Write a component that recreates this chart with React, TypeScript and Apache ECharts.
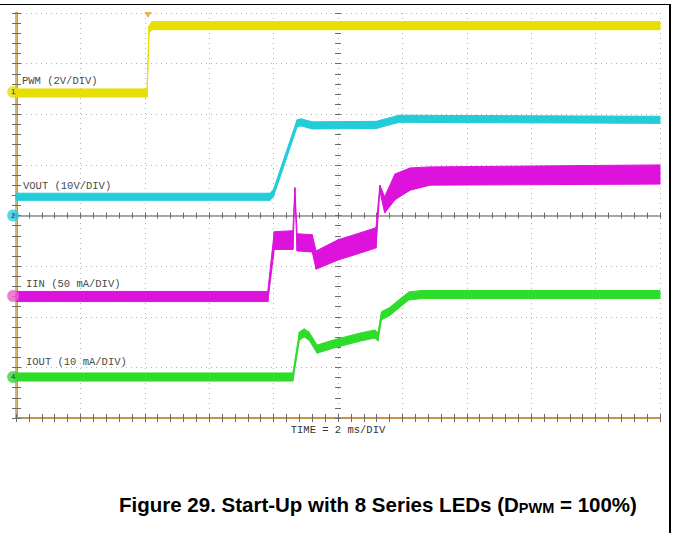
import React, { useEffect, useRef } from 'react';
import * as echarts from 'echarts';

// Time axis (ms) and vertical divisions
const timeTicksMs = [0, 2, 4, 6, 8, 10, 12, 14, 16, 18, 20];
const divTicks = [0, 1, 2, 3, 4, 5, 6, 7, 8];

// PWM (yellow) envelope, in divisions
const pwmT = [0, 4.07, 4.13, 4.22, 20];
const pwmLo = [6.34, 6.34, 7.6, 7.67, 7.67];
const pwmHi = [6.5, 6.5, 7.74, 7.83, 7.83];

// VOUT (cyan)
const voutT = [0, 7.89, 8.0, 8.73, 8.85, 9.2, 11.2, 11.3, 11.9, 20];
const voutLo = [4.3, 4.3, 4.38, 5.75, 5.77, 5.71, 5.72, 5.74, 5.84, 5.82];
const voutHi = [4.44, 4.44, 4.52, 5.89, 5.91, 5.85, 5.86, 5.88, 5.98, 5.96];

// IIN (magenta)
const iinT = [0, 7.82, 8.02, 8.6, 8.66, 8.73, 9.2, 9.32, 10.0, 10.7, 11.18, 11.3, 11.45, 11.77, 12.24, 12.86, 20];
const iinLo = [2.3, 2.3, 3.33, 3.33, 4.42, 3.3, 3.28, 2.94, 3.12, 3.26, 3.36, 4.48, 4.05, 4.31, 4.5, 4.6, 4.62];
const iinHi = [2.5, 2.5, 3.68, 3.7, 4.55, 3.64, 3.62, 3.3, 3.52, 3.66, 3.76, 4.6, 4.37, 4.82, 4.94, 4.96, 5.0];

// IOUT (green)
const ioutT = [0, 8.6, 8.8, 8.95, 9.1, 9.35, 9.85, 10.7, 11.15, 11.24, 11.35, 11.6, 11.92, 12.2, 12.6, 20];
const ioutLo = [0.73, 0.73, 1.54, 1.6, 1.54, 1.28, 1.38, 1.52, 1.58, 1.52, 1.94, 2.02, 2.19, 2.33, 2.36, 2.36];
const ioutHi = [0.89, 0.89, 1.7, 1.76, 1.7, 1.44, 1.54, 1.68, 1.74, 1.68, 2.1, 2.18, 2.35, 2.49, 2.52, 2.52];

// Channel ground markers
const chLabels = ['1', '2', '', '4'];
const chGround = [6.44, 4.0, 2.41, 0.81];
const chColors = ['#e6df00', '#2ccfe0', '#e860c8', '#33d833'];
const markerT = -0.09;
const triggerT = 4.1;

const traceNames = ['PWM (2V/DIV)', 'VOUT (10V/DIV)', 'IIN (50 mA/DIV)', 'IOUT (10 mA/DIV)'];

function segments(t: number[], lo: number[], hi: number[]) {
  const out: number[][] = [];
  for (let i = 0; i < t.length - 1; i++) {
    out.push([t[i], lo[i], hi[i], t[i + 1], lo[i + 1], hi[i + 1]]);
  }
  return out;
}

function bandSeries(name: string, color: string, t: number[], lo: number[], hi: number[]) {
  return {
    type: 'custom',
    name,
    coordinateSystem: 'cartesian2d',
    xAxisIndex: 0,
    yAxisIndex: 0,
    silent: true,
    z: 3,
    data: segments(t, lo, hi),
    encode: { x: [0, 3], y: [1, 2, 4, 5] },
    renderItem: (_params: any, api: any) => {
      const a = api.coord([api.value(0), api.value(2)]);
      const b = api.coord([api.value(3), api.value(5)]);
      const c = api.coord([api.value(3), api.value(4)]);
      const d = api.coord([api.value(0), api.value(1)]);
      return {
        type: 'polygon',
        shape: { points: [a, b, c, d] },
        style: { fill: color, stroke: color, lineWidth: 1 },
      };
    },
  };
}

const tickColor = '#6a6a6a';
const mono = '"Liberation Mono", "DejaVu Sans Mono", monospace';
const sans = '"Liberation Sans", Arial, sans-serif';

export default function App() {
  const ref = useRef<HTMLDivElement>(null);
  useEffect(() => {
    if (!ref.current) return;
    const chart = echarts.init(ref.current, undefined, { renderer: 'svg' });
    const xBase = { type: 'value', min: timeTicksMs[0], max: timeTicksMs[timeTicksMs.length - 1], interval: 2, axisLabel: { show: false } };
    const yBase = { type: 'value', min: divTicks[0], max: divTicks[divTicks.length - 1], interval: 1, axisLabel: { show: false } };
    chart.setOption({
      animation: false,
      backgroundColor: '#ffffff',
      grid: { left: 16, top: 13, width: 644, height: 405, containLabel: false },
      xAxis: [
        {
          ...xBase, position: 'bottom',
          axisLine: { show: true, lineStyle: { color: '#d6b66c', width: 2 } },
          axisTick: { show: true, inside: true, length: 4, lineStyle: { color: tickColor } },
          minorTick: { show: true, splitNumber: 5, length: 4, lineStyle: { color: tickColor } },
          splitLine: { show: true, lineStyle: { color: '#b4b4b4', type: [1, 4], width: 1 } },
        },
        {
          ...xBase, position: 'top',
          axisLine: { show: true, lineStyle: { color: '#c49650', width: 2 } },
          axisTick: { show: true, inside: true, length: 4, lineStyle: { color: tickColor } },
          minorTick: { show: true, splitNumber: 5, length: 4, lineStyle: { color: tickColor } },
          splitLine: { show: false },
        },
        {
          ...xBase, position: 'bottom', offset: -199.5,
          axisLine: { show: false },
          axisTick: { show: true, inside: true, length: 6, lineStyle: { color: tickColor } },
          minorTick: { show: true, splitNumber: 5, length: 6, lineStyle: { color: tickColor } },
          splitLine: { show: false },
        },
        {
          ...xBase, position: 'bottom', offset: -202.5,
          axisLine: { show: true, lineStyle: { color: '#8c8c8c', width: 1.5 } },
          axisTick: { show: false },
          splitLine: { show: false },
        },
      ],
      yAxis: [
        {
          ...yBase, position: 'left',
          axisLine: { show: true, lineStyle: { color: '#a86e2a', width: 2.5 } },
          axisTick: { show: true, inside: true, length: 5, lineStyle: { color: tickColor } },
          minorTick: { show: true, splitNumber: 5, length: 5, lineStyle: { color: tickColor } },
          splitLine: { show: true, lineStyle: { color: '#b4b4b4', type: [1, 4], width: 1 } },
        },
        {
          ...yBase, position: 'right',
          axisLine: { show: true, lineStyle: { color: '#d6b66c', width: 2 } },
          axisTick: { show: true, inside: true, length: 4, lineStyle: { color: tickColor } },
          minorTick: { show: true, splitNumber: 5, length: 4, lineStyle: { color: tickColor } },
          splitLine: { show: false },
        },
        {
          ...yBase, position: 'left', offset: -319,
          axisLine: { show: false },
          axisTick: { show: true, inside: true, length: 6, lineStyle: { color: tickColor } },
          minorTick: { show: true, splitNumber: 5, length: 6, lineStyle: { color: tickColor } },
          splitLine: { show: false },
        },
      ],
      series: [
        bandSeries('PWM', '#e6df00', pwmT, pwmLo, pwmHi),
        bandSeries('VOUT', '#22ccd8', voutT, voutLo, voutHi),
        bandSeries('IIN', '#dd12dd', iinT, iinLo, iinHi),
        bandSeries('IOUT', '#2edc2a', ioutT, ioutLo, ioutHi),
        {
          type: 'scatter',
          xAxisIndex: 0,
          yAxisIndex: 0,
          clip: false,
          silent: true,
          z: 10,
          zlevel: 1,
          symbolSize: 12,
          data: chGround.map((g, i) => ({
            value: [markerT, g],
            name: chLabels[i],
            itemStyle: { color: chColors[i] },
          })),
          label: {
            show: true,
            position: 'inside',
            formatter: '{b}',
            fontSize: 7,
            fontWeight: 'bold',
            color: '#333',
          },
        },
        {
          type: 'scatter',
          xAxisIndex: 0,
          yAxisIndex: 0,
          clip: false,
          silent: true,
          z: 10,
          zlevel: 1,
          symbol: 'triangle',
          symbolRotate: 180,
          symbolSize: [7, 6],
          symbolOffset: [0, 2],
          data: [[triggerT, divTicks[divTicks.length - 1]]],
          itemStyle: { color: '#e0a030' },
        },
      ],
      graphic: [
        { type: 'line', silent: true, shape: { x1: 0, y1: 4.5, x2: 671, y2: 4.5 }, style: { stroke: '#000', lineWidth: 1 } },
        { type: 'line', silent: true, shape: { x1: 670, y1: 4, x2: 670, y2: 533 }, style: { stroke: '#000', lineWidth: 2 } },
        { type: 'text', silent: true, x: 22, y: 81, style: { text: traceNames[0], font: `10.5px ${mono}`, fill: '#4a4a4a', verticalAlign: 'middle' } },
        { type: 'text', silent: true, x: 23, y: 186, style: { text: traceNames[1], font: `10.5px ${mono}`, fill: '#4a4a4a', verticalAlign: 'middle' } },
        { type: 'text', silent: true, x: 26, y: 284, style: { text: traceNames[2], font: `10.5px ${mono}`, fill: '#4a4a4a', verticalAlign: 'middle' } },
        { type: 'text', silent: true, x: 26, y: 362, style: { text: traceNames[3], font: `10.5px ${mono}`, fill: '#4a4a4a', verticalAlign: 'middle' } },
        { type: 'text', silent: true, x: 338, y: 430, style: { text: 'TIME = 2 ms/DIV', font: `10.5px ${mono}`, fill: '#333333', align: 'center', verticalAlign: 'middle' } },
        {
          type: 'text', silent: true, x: 119, y: 502,
          style: {
            text: '{b|Figure 29. Start-Up with 8 Series LEDs (D}{s|PWM}{b| = 100%)}',
            verticalAlign: 'middle',
            rich: {
              b: { fontSize: 20.5, fontWeight: 'bold', fontFamily: sans, fill: '#000', color: '#000', lineHeight: 26, verticalAlign: 'bottom' },
              s: { fontSize: 14.5, fontWeight: 'bold', fontFamily: sans, fill: '#000', color: '#000', lineHeight: 16, verticalAlign: 'bottom' },
            },
          },
        },
      ],
    });
    return () => chart.dispose();
  }, []);
  return (
    <div
      ref={ref}
      style={{ position: 'absolute', left: 0, top: 0, width: 673, height: 533, background: '#fff' }}
    />
  );
}
